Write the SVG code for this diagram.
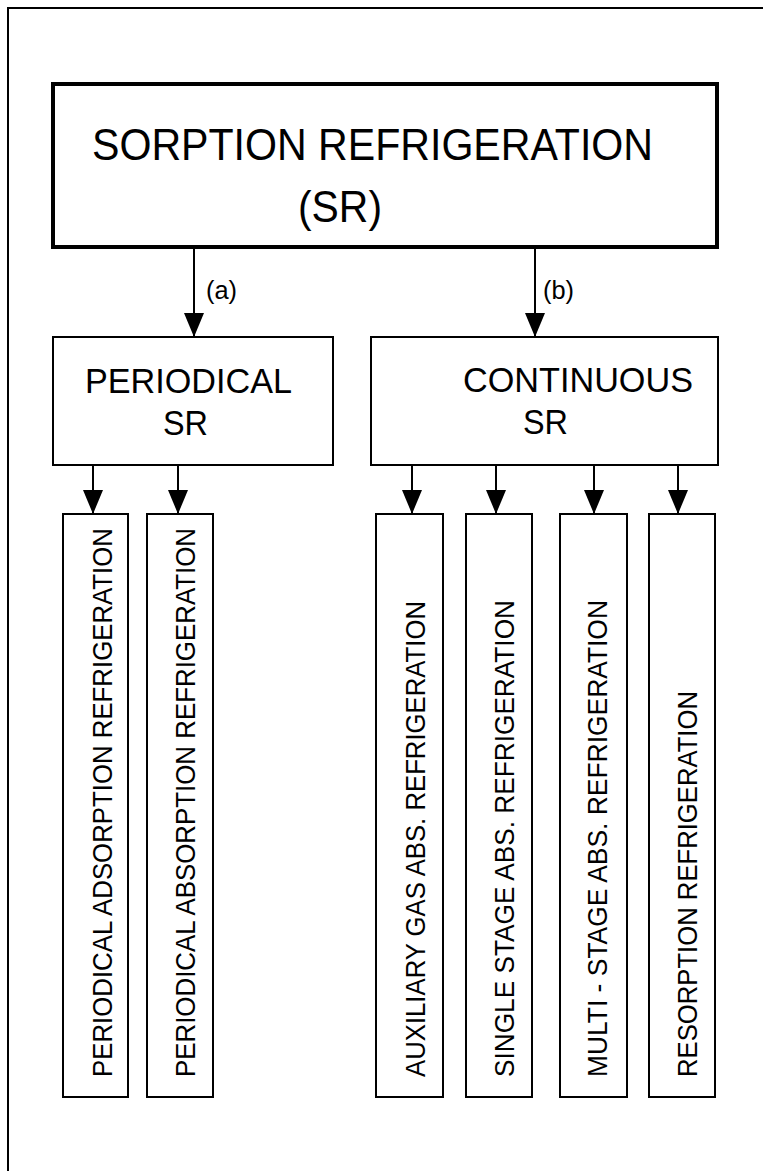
<svg xmlns="http://www.w3.org/2000/svg" width="763" height="1171" viewBox="0 0 763 1171">
<defs>
<marker id="ah" viewBox="0 0 24 20" refX="24" refY="10" markerWidth="24" markerHeight="20" markerUnits="userSpaceOnUse" orient="auto">
<path d="M0,0 L24,10 L0,20 Z" fill="#000"/>
</marker>
<style>
.box{fill:#fff;stroke:#000;stroke-width:2}
.main{fill:#fff;stroke:#000;stroke-width:4}
.t{font-family:"Liberation Sans",Arial,sans-serif;fill:#000}
.v{font-family:"Liberation Sans",Arial,sans-serif;fill:#000;font-size:28px}
.c{stroke:#000;stroke-width:2;fill:none}
</style>
</defs>
<rect width="763" height="1171" fill="#fff"/>
<path d="M8,1171 V8 H763" fill="none" stroke="#000" stroke-width="2"/>

<g id="sr">
<rect class="main" x="53" y="84" width="664" height="163"/>
<text class="t" x="92" y="160" font-size="44" textLength="561" lengthAdjust="spacingAndGlyphs">SORPTION REFRIGERATION</text>
<text class="t" x="298" y="222" font-size="44" textLength="84" lengthAdjust="spacingAndGlyphs">(SR)</text>
</g>

<g id="periodical">
<rect class="box" x="53" y="337" width="280" height="128"/>
<text class="t" x="85" y="393" font-size="35" textLength="207" lengthAdjust="spacingAndGlyphs">PERIODICAL</text>
<text class="t" x="163" y="435" font-size="35" textLength="45" lengthAdjust="spacingAndGlyphs">SR</text>
</g>

<g id="continuous">
<rect class="box" x="371" y="337" width="347" height="128"/>
<text class="t" x="463" y="392" font-size="35" textLength="230" lengthAdjust="spacingAndGlyphs">CONTINUOUS</text>
<text class="t" x="523" y="434" font-size="35" textLength="45" lengthAdjust="spacingAndGlyphs">SR</text>
</g>

<g id="p-adsorption">
<rect class="box" x="63" y="514" width="65" height="583"/>
<text class="v" transform="translate(112,1077) rotate(-90)" textLength="549" lengthAdjust="spacingAndGlyphs">PERIODICAL ADSORPTION REFRIGERATION</text>
</g>
<g id="p-absorption">
<rect class="box" x="147" y="514" width="66" height="583"/>
<text class="v" transform="translate(195,1077) rotate(-90)" textLength="549" lengthAdjust="spacingAndGlyphs">PERIODICAL ABSORPTION REFRIGERATION</text>
</g>
<g id="c-auxiliary">
<rect class="box" x="376" y="514" width="67" height="583"/>
<text class="v" transform="translate(425,1077) rotate(-90)" textLength="476" lengthAdjust="spacingAndGlyphs">AUXILIARY GAS ABS. REFRIGERATION</text>
</g>
<g id="c-single">
<rect class="box" x="466" y="514" width="66" height="583"/>
<text class="v" transform="translate(514,1077) rotate(-90)" textLength="477" lengthAdjust="spacingAndGlyphs">SINGLE STAGE ABS. REFRIGERATION</text>
</g>
<g id="c-multi">
<rect class="box" x="560" y="514" width="67" height="583"/>
<text class="v" transform="translate(607,1077) rotate(-90)" textLength="477" lengthAdjust="spacingAndGlyphs">MULTI - STAGE ABS. REFRIGERATION</text>
</g>
<g id="c-resorption">
<rect class="box" x="649" y="514" width="66" height="583"/>
<text class="v" transform="translate(697,1077) rotate(-90)" textLength="386" lengthAdjust="spacingAndGlyphs">RESORPTION REFRIGERATION</text>
</g>

<g id="connectors">
<line class="c" x1="194" y1="249" x2="194" y2="337" marker-end="url(#ah)"/>
<line class="c" x1="535" y1="249" x2="535" y2="337" marker-end="url(#ah)"/>
<text class="t" x="206" y="299" font-size="25" textLength="31" lengthAdjust="spacingAndGlyphs">(a)</text>
<text class="t" x="543" y="299" font-size="25" textLength="31" lengthAdjust="spacingAndGlyphs">(b)</text>
<line class="c" x1="93" y1="465" x2="93" y2="514" marker-end="url(#ah)"/>
<line class="c" x1="178" y1="465" x2="178" y2="514" marker-end="url(#ah)"/>
<line class="c" x1="412" y1="465" x2="412" y2="514" marker-end="url(#ah)"/>
<line class="c" x1="496" y1="465" x2="496" y2="514" marker-end="url(#ah)"/>
<line class="c" x1="594" y1="465" x2="594" y2="514" marker-end="url(#ah)"/>
<line class="c" x1="678" y1="465" x2="678" y2="514" marker-end="url(#ah)"/>
</g>
</svg>
